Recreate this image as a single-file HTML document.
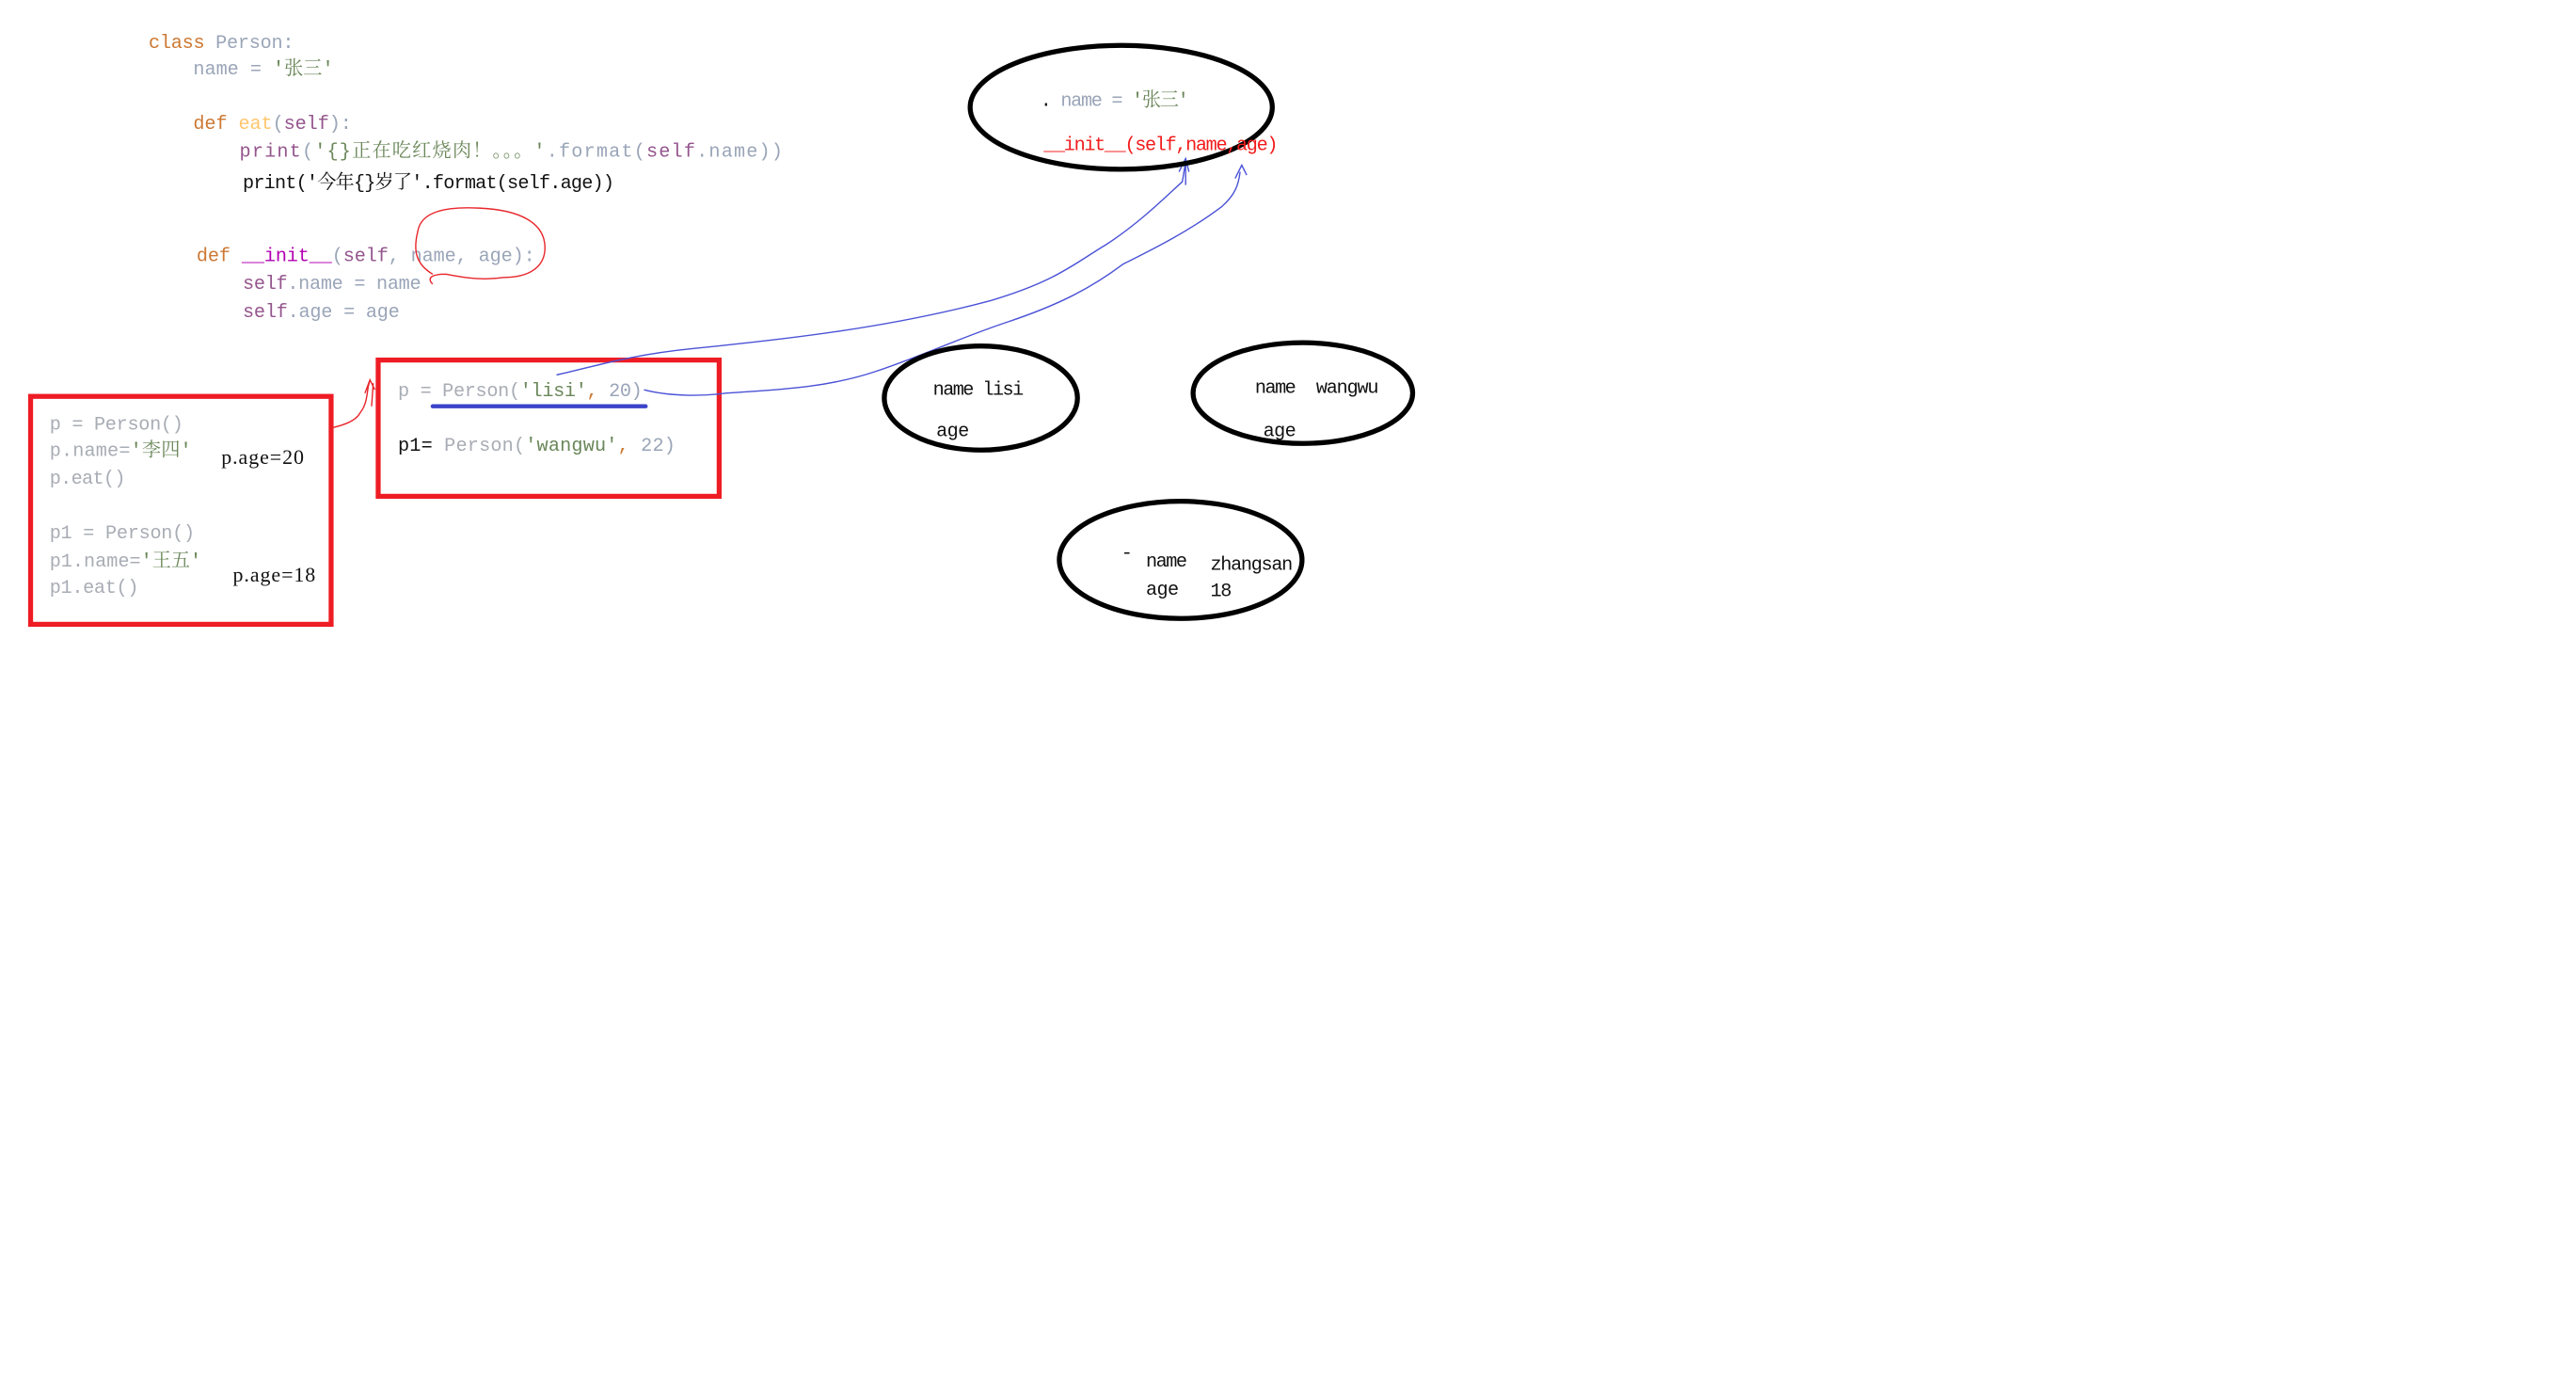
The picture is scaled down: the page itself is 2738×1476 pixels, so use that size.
<!DOCTYPE html>
<html><head><meta charset="utf-8"><style>
html,body{margin:0;padding:0;background:#fff;}
svg{display:block;}
text{font-family:"Liberation Mono","Noto Serif CJK SC",monospace;font-size:11.5px;}
.o{fill:#cc7832}.g{fill:#9aa5b8}.s{fill:#6a8759}.p{fill:#94558d}.y{fill:#ffc66d}.m{fill:#b200b2}.k{fill:#111}.l{fill:#a8acb4}.r{fill:#f21b1b}
.sf{font-family:"Liberation Serif","Noto Serif CJK SC",serif;font-size:12.5px;}
</style></head><body>
<svg width="2738" height="1476" viewBox="0 0 1560 841" xmlns="http://www.w3.org/2000/svg">
<rect width="1560" height="841" fill="#fff"/>
<text x="90" y="29" textLength="88"><tspan class="o">class </tspan><tspan class="g">Person:</tspan></text>
<text x="117" y="45" textLength="85"><tspan class="g">name = </tspan><tspan class="s">'张三'</tspan></text>
<text x="117" y="78" textLength="96"><tspan class="o">def </tspan><tspan class="y">eat</tspan><tspan class="g">(</tspan><tspan class="p">self</tspan><tspan class="g">):</tspan></text>
<text x="145" y="95" textLength="329"><tspan class="p">print</tspan><tspan class="g">(</tspan><tspan class="s">'{}正在吃红烧肉！。。。'</tspan><tspan class="g">.format(</tspan><tspan class="p">self</tspan><tspan class="g">.name))</tspan></text>
<text x="147" y="114" class="k" textLength="225">print('今年{}岁了'.format(self.age))</text>
<text x="119" y="158" textLength="205"><tspan class="o">def </tspan><tspan class="m">__init__</tspan><tspan class="g">(</tspan><tspan class="p">self</tspan><tspan class="g">, name, age):</tspan></text>
<text x="147" y="175" textLength="108"><tspan class="p">self</tspan><tspan class="g">.name = name</tspan></text>
<text x="147" y="192" textLength="95"><tspan class="p">self</tspan><tspan class="g">.age = age</tspan></text>
<path d="M253,140 C255,128 270,125 290,126 C315,127 330,135 330,150 C330,162 320,168 305,168 C292,170 280,168 270,166 C262,166 258,168 262,172 M253,140 C250,152 252,160 262,166" fill="none" stroke="#e8262b" stroke-width="0.8"/>
<rect x="18.5" y="240" width="182" height="138" fill="none" stroke="#ee1c24" stroke-width="3"/>
<text x="30" y="260" class="l" textLength="81">p = Person()</text>
<text x="30" y="276" textLength="86"><tspan class="l">p.name=</tspan><tspan class="s">'李四'</tspan></text>
<text x="30" y="293" class="l" textLength="46">p.eat()</text>
<text x="30" y="326" class="l" textLength="88">p1 = Person()</text>
<text x="30" y="343" textLength="92"><tspan class="l">p1.name=</tspan><tspan class="s">'王五'</tspan></text>
<text x="30" y="359" class="l" textLength="54">p1.eat()</text>
<text x="134" y="281" class="k sf" textLength="50">p.age=20</text>
<text x="141" y="352" class="k sf" textLength="50">p.age=18</text>
<path d="M201,259 C210,257 216,254 218,250 C222,245 222,240 223,234 L224,230 M221,238 L224,230 L227,236 M226,232 L225,246" fill="none" stroke="#e8262b" stroke-width="0.8"/>
<rect x="229" y="218" width="206.5" height="82.5" fill="none" stroke="#ee1c24" stroke-width="3"/>
<text x="241" y="240" textLength="148"><tspan class="l">p = Person(</tspan><tspan class="s">'lisi'</tspan><tspan class="o">, </tspan><tspan class="g">20)</tspan></text>
<line x1="262" y1="246" x2="391" y2="246" stroke="#3b44c8" stroke-width="2.5" stroke-linecap="round"/>
<text x="241" y="273" textLength="168"><tspan class="k">p1= </tspan><tspan class="l"> Person(</tspan><tspan class="s">'wangwu'</tspan><tspan class="o">, </tspan><tspan class="g">22)</tspan></text>
<path d="M337,227 C360,222 380,215 420,211 C480,205 540,198 600,182 C640,170 650,160 670,148 C690,135 705,120 716,110 L718,98" fill="none" stroke="#4a52d6" stroke-width="0.8"/>
<path d="M714,104 L718,96 L720,104 M718,98 L718,112" fill="none" stroke="#4a52d6" stroke-width="0.8"/>
<path d="M390,236 C405,240 425,240 440,238 C470,236 500,235 530,225 C560,215 580,205 610,195 C640,185 660,175 680,160 C700,150 720,140 740,125 C748,118 750,112 751,104" fill="none" stroke="#4a52d6" stroke-width="0.8"/>
<path d="M748,108 L752,100 L755,106" fill="none" stroke="#4a52d6" stroke-width="0.8"/>
<ellipse cx="679" cy="65" rx="91.5" ry="37.5" fill="none" stroke="#000" stroke-width="3"/>
<text x="630" y="64" textLength="90"><tspan class="k">. </tspan><tspan class="g">name = </tspan><tspan class="s">'张三'</tspan></text>
<text x="632" y="91" class="r" textLength="142">__init__(self,name,age)</text>
<ellipse cx="594" cy="241" rx="58.5" ry="31.5" fill="none" stroke="#000" stroke-width="3"/>
<text x="565" y="239" class="k" textLength="55">name lisi</text>
<text x="567" y="264" class="k" textLength="20">age</text>
<ellipse cx="789" cy="238" rx="66.5" ry="30.5" fill="none" stroke="#000" stroke-width="3"/>
<text x="760" y="238" class="k" textLength="25">name</text>
<text x="797" y="238" class="k" textLength="38">wangwu</text>
<text x="765" y="264" class="k" textLength="20">age</text>
<ellipse cx="715" cy="339" rx="73.5" ry="35.5" fill="none" stroke="#000" stroke-width="3"/>
<text x="679" y="338" class="k">-</text>
<text x="694" y="343" class="k" textLength="25">name</text>
<text x="733" y="345" class="k" textLength="50">zhangsan</text>
<text x="694" y="360" class="k" textLength="20">age</text>
<text x="733" y="361" class="k" textLength="13">18</text>
</svg>
</body></html>
